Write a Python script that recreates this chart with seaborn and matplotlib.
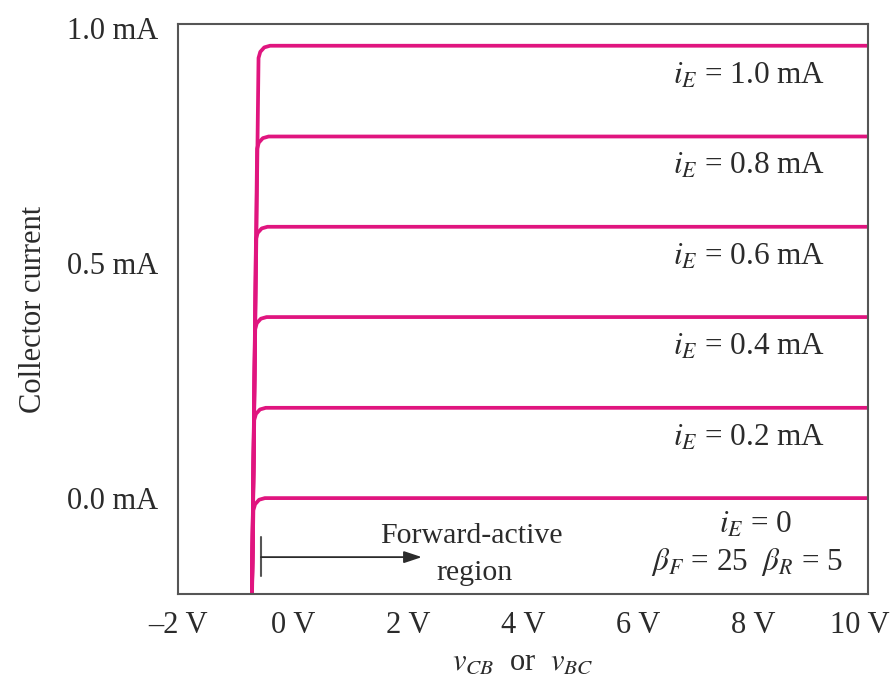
import numpy as np
import pandas as pd
import matplotlib
matplotlib.use("Agg")
import matplotlib.pyplot as plt
import matplotlib.transforms as mtransforms
import seaborn as sns

# Emitter currents (mA) and the forward-active collector current for each (mA)
emitter_current = [0.0, 0.2, 0.4, 0.6, 0.8, 1.0]
collector_level = [0.0, 0.192, 0.385, 0.577, 0.769, 0.962]
# v_CB (V) where each curve leaves the steep saturation edge
knee_voltage = [-0.69, -0.675, -0.66, -0.645, -0.625, -0.60]
# bottom of the steep edge (V, mA) and right end of the sweep (V)
edge_voltage = -0.72
edge_current = -0.26
sweep_end = 10.0
# rounding of the knee: offsets from the knee point (V, mA)
knee_dv = [0.0, 0.03, 0.1, 0.2]
knee_di = [-0.026, -0.013, -0.0035, 0.0]

x_ticks = [-2, 0, 2, 4, 6, 8, 10]
x_tick_labels = ["\u20132 V", "0 V", "2 V", "4 V", "6 V", "8 V", "10 V"]
y_ticks = [0.0, 0.5, 1.0]
y_tick_labels = ["0.0 mA", "0.5 mA", "1.0 mA"]

curve_labels = ["$i_E$ = 0", "$i_E$ = 0.2 mA", "$i_E$ = 0.4 mA",
                "$i_E$ = 0.6 mA", "$i_E$ = 0.8 mA", "$i_E$ = 1.0 mA"]

MAGENTA = "#E0157F"
INK = "#2b2b2b"

sns.set_theme(style="white")
plt.rcParams["font.family"] = ["Liberation Serif", "DejaVu Serif"]
plt.rcParams["mathtext.fontset"] = "stix"

rows = []
for k, (ie, lvl, vk) in enumerate(zip(emitter_current, collector_level, knee_voltage)):
    pts = [(edge_voltage, edge_current)]
    for dv, di in zip(knee_dv, knee_di):
        pts.append((vk + dv, lvl + di))
    pts.append((sweep_end, lvl))
    for order, (v, i) in enumerate(pts):
        rows.append({"curve": k, "order": order, "v": v, "iC": i})
df = pd.DataFrame(rows)

fig = plt.figure(figsize=(8.92, 6.85), dpi=100)
ax = fig.add_axes([0.1996, 0.1328, 0.7735, 0.832])

sns.lineplot(data=df, x="v", y="iC", units="curve", estimator=None, sort=False,
             color=MAGENTA, linewidth=2.7, ax=ax, legend=False,
             solid_joinstyle="round", solid_capstyle="butt")

ax.set_xlim(-2, 10)
ax.set_ylim(-0.204, 1.008)
ax.set_xticks(x_ticks)
ax.set_xticklabels(x_tick_labels)
ax.set_yticks(y_ticks)
ax.set_yticklabels(y_tick_labels)
ax.tick_params(axis="both", direction="in", length=10, width=1.5, color=INK,
               labelsize=22, labelcolor=INK)
ax.tick_params(axis="x", pad=12)
ax.tick_params(axis="y", pad=14)
for side in ["left", "right", "top", "bottom"]:
    ax.spines[side].set_visible(True)
    ax.spines[side].set_color("#555555")
    ax.spines[side].set_linewidth(1.5)

# nudge the last x tick label so it stays inside the figure
fig.canvas.draw()
last = ax.get_xticklabels()[-1]
last.set_transform(last.get_transform()
                   + mtransforms.ScaledTranslation(-8 / 100, 0, fig.dpi_scale_trans))

ax.set_xlabel(r"$v_{CB}$  or  $v_{BC}$", fontsize=22, color=INK, labelpad=6)
ax.set_ylabel("Collector current", fontsize=22, color=INK, labelpad=14)

# curve labels just below each plateau
for lvl, text in zip(collector_level[1:], curve_labels[1:]):
    ax.text(6.6, lvl - 0.08, text, fontsize=22.5, color=INK, ha="left",
            va="baseline")
ax.text(8.05, -0.0745, curve_labels[0], fontsize=22.5, color=INK, ha="center",
        va="baseline")
ax.text(7.9, -0.153, r"$\beta_F$ = 25  $\beta_R$ = 5", fontsize=22.5, color=INK,
        ha="center", va="baseline")

# forward-active region marker
ax.text(3.1, -0.096, "Forward-active", fontsize=21.5, color=INK, ha="center",
        va="baseline")
ax.text(3.15, -0.174, "region", fontsize=21.5, color=INK, ha="center",
        va="baseline")
ax.annotate("", xy=(2.24, -0.1255), xytext=(-0.557, -0.1255),
            arrowprops=dict(arrowstyle="-|>,head_length=0.9,head_width=0.3",
                            color=INK, lw=1.3, shrinkA=0, shrinkB=0))
ax.plot([-0.557, -0.557], [-0.083, -0.166], color="#555555", lw=1.5)

fig.savefig("out.png", dpi=100)
